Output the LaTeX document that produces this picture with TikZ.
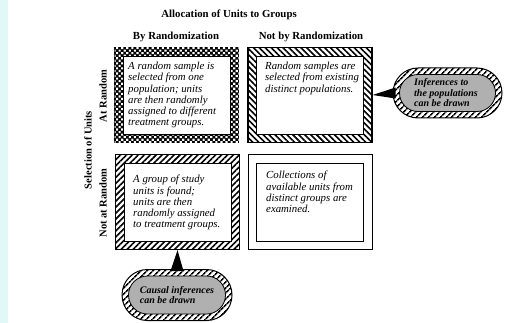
\documentclass[tikz,border=0pt]{standalone}
\usepackage{fontspec}
\setmainfont{Liberation Serif}
\usetikzlibrary{patterns,patterns.meta,shapes.misc}
\definecolor{stripcyan}{HTML}{E0F8F8}
\definecolor{pillgray}{HTML}{B0B0B0}
\begin{document}
\begin{tikzpicture}[x=1pt,y=-1pt,
  head/.style={font=\bfseries\fontsize{10.8}{12}\selectfont, inner sep=0pt},
  side/.style={font=\bfseries\fontsize{10.5}{12}\selectfont, inner sep=0pt, rotate=90},
  outerbox/.style={draw=black, line width=1.1pt, minimum width=124pt, minimum height=95pt, inner sep=0pt},
  innerbox/.style={draw=black, line width=0.8pt, fill=white, minimum width=107pt, minimum height=78pt, inner sep=0pt},
  dotring/.style={fill=black, postaction={pattern={Dots[distance=3.6pt,radius=1.5pt,angle=45]}, pattern color=white}},
  nwring/.style={fill=white, postaction={pattern={Lines[angle=-45,distance=4.2pt,line width=1.6pt]}, pattern color=black}},
  nering/.style={fill=white, postaction={pattern={Lines[angle=45,distance=4.2pt,line width=1.6pt]}, pattern color=black}},
  txt/.style={font=\itshape\fontsize{10.8}{11.2}\selectfont, inner sep=0pt, anchor=north west, align=left},
  pillout/.style={rounded rectangle, draw=black, line width=1pt, fill=white, inner sep=0pt,
     postaction={pattern={Lines[angle=45,distance=4pt,line width=1.7pt]}, pattern color=black}},
  pillin/.style={rounded rectangle, draw=black, line width=0.8pt, fill=pillgray, inner sep=0pt},
  pilltxt/.style={font=\bfseries\itshape\fontsize{10}{10.5}\selectfont, inner sep=0pt, align=left},
  wedge/.style={fill=black}
]
\useasboundingbox (0,0) rectangle (505,323);
\fill[stripcyan] (0,0) rectangle (8,323);

% headings
\node[head] (title) at (229,15) {Allocation of Units to Groups};
\node[head] (hby) at (176,37) {By Randomization};
\node[head] (hnot) at (311,37) {Not by Randomization};
\node[side] (sel) at (88,150) {Selection of Units};
\node[side] (sat) at (103,96) {At Random};
\node[side] (snot) at (103,203) {Not at Random};

% boxes
\node[outerbox, dotring] (b1) at (176.5,95) {};
\node[innerbox] (b1i) at (b1.center) {};
\node[outerbox, nwring] (b2) at (310,95) {};
\node[innerbox] (b2i) at (b2.center) {};
\node[outerbox, nering] (b3) at (177.5,202) {};
\node[innerbox] (b3i) at (b3.center) {};
\node[outerbox, fill=white, line width=0.9pt] (b4) at (310,202) {};
\node[innerbox, line width=0.9pt] (b4i) at (b4.center) {};

% box texts
\node[txt] (t1) at (128,62) {A random sample is\\selected from one\\population; units\\are then randomly\\assigned to different\\treatment groups.};
\node[txt] (t2) at (265,62) {Random samples are\\selected from existing\\distinct populations.};
\node[txt] (t3) at (133,175) {A group of study\\units is found;\\units are then\\randomly assigned\\to treatment groups.};
\node[txt] (t4) at (266,171) {Collections of\\available units from\\distinct groups are\\examined.};

% callouts
\node[pillout, minimum width=109pt, minimum height=50pt] (p1) at (447.5,93) {};
\node[pillin, minimum width=96pt, minimum height=37pt] (p1i) at (p1.center) {};
\node[pilltxt] (pt1) at ([xshift=-1.5pt]p1.center) {Inferences to\\the populations\\can be drawn};

\node[pillout, minimum width=110pt, minimum height=51pt] (p2) at (177,295) {};
\node[pillin, minimum width=97pt, minimum height=38pt] (p2i) at (p2.center) {};
\node[pilltxt] (pt2) at (p2.center) {Causal inferences\\can be drawn};

% wedges
\fill[wedge] (b2.east) -- ([xshift=3pt,yshift=5.5pt]p1.west) -- ([xshift=3pt,yshift=-5.5pt]p1.west) -- cycle;
\fill[wedge] (b3.south) -- ([xshift=-6.5pt,yshift=-2pt]p2.north) -- ([xshift=6.5pt,yshift=-2pt]p2.north) -- cycle;
\end{tikzpicture}
\end{document}
